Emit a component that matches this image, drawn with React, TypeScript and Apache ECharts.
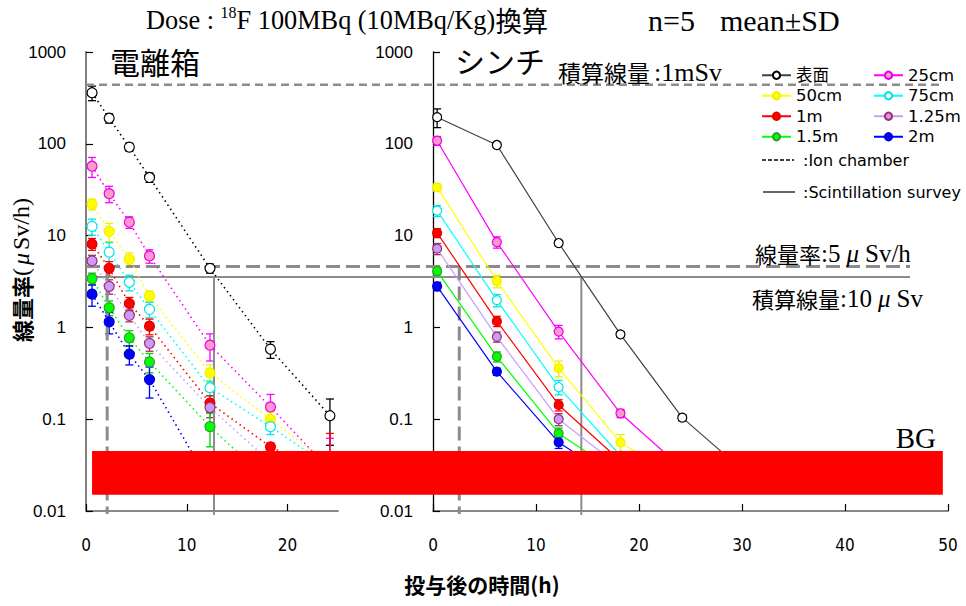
import React, { useEffect, useRef } from "react";
import * as echarts from "echarts";

// ---------- data ----------
const SERIES_NAMES = ["表面", "25cm", "50cm", "75cm", "1m", "1.25m", "1.5m", "2m"];

// Ion chamber (left panel)
const IC_TIMES = [0.6, 2.3, 4.3, 6.3, 12.3, 18.3, 24.2];
const IC_SURFACE = [360, 190, 92, 43, 4.4, 0.58, 0.109];
const IC_SURFACE_SD = [65, 22, 9, 5, 0.5, 0.12, 0.057];
const IC_25CM = [57, 28.6, 14.0, 6.0, 0.64, 0.136, 0.028];
const IC_25CM_SD = [14, 5.8, 2, 1, 0.21, 0.05, 0.034];
const IC_50CM = [22, 11.1, 5.5, 2.2, 0.32, 0.1, 0.032];
const IC_50CM_SD = [3, 2.5, 1, 0.3, 0.07, 0.02, 0];
const IC_75CM = [12.6, 6.6, 3.1, 1.57, 0.22, 0.083, 0.03];
const IC_75CM_SD = [2.5, 1.8, 0.6, 0.3, 0.04, 0.015, 0];
const IC_1M = [8.1, 4.4, 1.82, 1.03, 0.15, 0.05, 0.025];
const IC_1M_SD = [1.2, 0.8, 0.3, 0.2, 0.03, 0.005, 0.045];
const IC_125M = [5.3, 2.8, 1.35, 0.67, 0.134, 0.034, null];
const IC_125M_SD = [0.8, 0.5, 0.2, 0.12, 0.03, 0, 0];
const IC_15M = [3.4, 1.64, 0.77, 0.42, 0.083, 0.02, null];
const IC_15M_SD = [0.5, 0.3, 0.15, 0.1, 0.033, 0, 0];
const IC_2M = [2.3, 1.15, 0.51, 0.27, 0.02, null, null];
const IC_2M_SD = [0.6, 0.3, 0.12, 0.1, 0, 0, 0];

// Scintillation survey (right panel)
const SC_TIMES = [0.4, 6.2, 12.2, 18.2, 24.2, 30.2];
const SC_SURFACE = [195, 97, 8.3, 0.84, 0.104, 0.027];
const SC_SURFACE_SD = [45, 3, 0.4, 0.05, 0.008, 0];
const SC_25CM = [108, 8.5, 0.9, 0.116, 0.029, null];
const SC_25CM_SD = [12, 1.2, 0.15, 0.012, 0, 0];
const SC_50CM = [33.5, 3.2, 0.36, 0.056, 0.02, null];
const SC_50CM_SD = [3, 0.5, 0.07, 0.012, 0, 0];
const SC_75CM = [18.7, 1.98, 0.224, 0.04, null, null];
const SC_75CM_SD = [2.5, 0.3, 0.04, 0, 0, 0];
const SC_1M = [10.7, 1.17, 0.143, 0.035, null, null];
const SC_1M_SD = [1.2, 0.15, 0.02, 0, 0, 0];
const SC_125M = [7.2, 0.79, 0.1, 0.03, null, null];
const SC_125M_SD = [1.0, 0.1, 0.015, 0, 0, 0];
const SC_15M = [4.1, 0.48, 0.07, 0.025, null, null];
const SC_15M_SD = [0.4, 0.06, 0.01, 0, 0, 0];
const SC_2M = [2.8, 0.33, 0.056, 0.02, null, null];
const SC_2M_SD = [0.3, 0.03, 0.008, 0, 0, 0];

// axes ticks
const IC_X_TICKS = [0, 10, 20];
const SC_X_TICKS = [0, 10, 20, 30, 40, 50];

// reference levels
const LEVEL_1MSV = 440;
const LEVEL_RATE_5 = 4.6;
const LEVEL_10USV = 3.55;
const IC_CROSS_RATE = 2.1;
const SC_CROSS_RATE = 2.55;
const IC_CROSS_10USV = 12.7;
const SC_CROSS_10USV = 14.4;
const BG_RANGE = [0.015, 0.045];

// ---------- styles ----------
const STYLES = [
  { line: "#404040", icLine: "#000000", fill: "#ffffff", border: "#000000", err: "#000000" },
  { line: "#FF00FF", icLine: "#FF00FF", fill: "#FF99CC", border: "#E600E6", err: "#FF00FF" },
  { line: "#FFFF00", icLine: "#FFFF00", fill: "#FFFF00", border: "#F0F000", err: "#F0F000" },
  { line: "#00FFFF", icLine: "#00FFFF", fill: "#ffffff", border: "#00E5E5", err: "#00E5E5" },
  { line: "#FF0000", icLine: "#FF0000", fill: "#FF0000", border: "#E00000", err: "#FF0000" },
  { line: "#CC99FF", icLine: "#CC99FF", fill: "#CC99FF", border: "#993366", err: "#993366" },
  { line: "#00FF00", icLine: "#00FF00", fill: "#00FF00", border: "#339933", err: "#00CC00" },
  { line: "#0000FF", icLine: "#0000FF", fill: "#0000FF", border: "#0000CC", err: "#0000FF" },
];

const IC_VALUES = [IC_SURFACE, IC_25CM, IC_50CM, IC_75CM, IC_1M, IC_125M, IC_15M, IC_2M];
const IC_SDS = [IC_SURFACE_SD, IC_25CM_SD, IC_50CM_SD, IC_75CM_SD, IC_1M_SD, IC_125M_SD, IC_15M_SD, IC_2M_SD];
const SC_VALUES = [SC_SURFACE, SC_25CM, SC_50CM, SC_75CM, SC_1M, SC_125M, SC_15M, SC_2M];
const SC_SDS = [SC_SURFACE_SD, SC_25CM_SD, SC_50CM_SD, SC_75CM_SD, SC_1M_SD, SC_125M_SD, SC_15M_SD, SC_2M_SD];

const SANS = "'Liberation Sans', Arial, sans-serif";
const SERIF = "'Liberation Serif', 'Times New Roman', serif";
const CJK = "'Noto Sans CJK JP', sans-serif";
const NARROW = "'Liberation Sans Narrow', 'DejaVu Sans Condensed', 'Noto Sans CJK JP', sans-serif";
const LEG = "'DejaVu Sans', 'Noto Sans CJK JP', sans-serif";

function pairs(times: number[], vals: (number | null)[]) {
  const out: number[][] = [];
  vals.forEach((v, i) => {
    if (v != null) out.push([times[i], v]);
  });
  return out;
}
function errTriples(times: number[], vals: (number | null)[], sds: number[]) {
  const out: number[][] = [];
  vals.forEach((v, i) => {
    if (v != null && sds[i] > 0) out.push([times[i], v, sds[i]]);
  });
  return out;
}

function errorSeries(gi: number, data: number[][], color: string, name: string) {
  return {
    type: "custom",
    name,
    xAxisIndex: gi,
    yAxisIndex: gi,
    z: 1,
    data,
    encode: { x: 0, y: 1 },
    renderItem: (_p: any, api: any) => {
      const x = api.value(0);
      const y = api.value(1);
      const e = api.value(2);
      const top = api.coord([x, y + e]);
      const bot = api.coord([x, Math.max(y - e, 0.02)]);
      const w = 4;
      const style = { stroke: color, lineWidth: 1.3 };
      return {
        type: "group",
        children: [
          { type: "line", shape: { x1: top[0], y1: top[1], x2: bot[0], y2: bot[1] }, style },
          { type: "line", shape: { x1: top[0] - w, y1: top[1], x2: top[0] + w, y2: top[1] }, style },
          { type: "line", shape: { x1: bot[0] - w, y1: bot[1], x2: bot[0] + w, y2: bot[1] }, style },
        ],
      };
    },
  };
}

export default function App() {
  const ref = useRef<HTMLDivElement>(null);
  useEffect(() => {
    if (!ref.current) return;
    const chart = echarts.init(ref.current, null, { renderer: "svg" });

    const yAxisBase = (gi: number, color: string, width: number) => ({
      type: "log",
      logBase: 10,
      gridIndex: gi,
      min: 0.01,
      max: 1000,
      axisLine: { show: true, lineStyle: { color, width } },
      axisTick: { show: true, inside: true, length: 7, lineStyle: { color: "#000", width: 1.2 } },
      splitLine: { show: false },
      axisLabel: {
        margin: 20,
        fontFamily: SANS,
        fontSize: 17,
        color: "#000",
        formatter: (v: number) => String(parseFloat(Number(v).toPrecision(3))),
      },
    });
    const xAxisBase = (gi: number, max: number, ticks: number[]) => ({
      type: "value",
      gridIndex: gi,
      min: 0,
      max,
      interval: 10,
      axisLine: { show: true, onZero: false, lineStyle: { color: "#888", width: 2 } },
      axisTick: { show: true, inside: true, length: 7, customValues: ticks, lineStyle: { color: "#000", width: 1.2 } },
      splitLine: { show: false },
      axisLabel: {
        margin: 25,
        fontFamily: NARROW,
        fontSize: 17,
        color: "#000",
        customValues: ticks,
      },
    });

    const series: any[] = [];
    SERIES_NAMES.forEach((name, i) => {
      const st = STYLES[i];
      series.push({
        type: "line",
        name,
        xAxisIndex: 1,
        yAxisIndex: 1,
        z: 3,
        data: pairs(SC_TIMES, SC_VALUES[i]),
        symbol: "circle",
        symbolSize: 9,
        showAllSymbol: true,
        lineStyle: { color: st.line, width: 1.2 },
        itemStyle: { color: st.fill, borderColor: st.border, borderWidth: 1.2 },
      });
    });
    SERIES_NAMES.forEach((name, i) => {
      const st = STYLES[i];
      series.push({
        type: "line",
        name,
        xAxisIndex: 0,
        yAxisIndex: 0,
        z: 3,
        data: pairs(IC_TIMES, IC_VALUES[i]),
        symbol: "circle",
        symbolSize: 10,
        showAllSymbol: true,
        lineStyle: { color: st.icLine, width: 1.6, type: [1.5, 3.5] },
        itemStyle: { color: st.fill, borderColor: st.border, borderWidth: 1.2 },
      });
    });
    SERIES_NAMES.forEach((name, i) => {
      series.push(errorSeries(0, errTriples(IC_TIMES, IC_VALUES[i], IC_SDS[i]), STYLES[i].err, name + " SD(IC)"));
      series.push(errorSeries(1, errTriples(SC_TIMES, SC_VALUES[i], SC_SDS[i]), STYLES[i].err, name + " SD(SC)"));
    });

    const option: any = {
      animation: false,
      backgroundColor: "#ffffff",
      grid: [
        { left: 86, top: 52, width: 252, height: 459 },
        { left: 433, top: 52, width: 515, height: 459 },
      ],
      xAxis: [xAxisBase(0, 25, IC_X_TICKS), xAxisBase(1, 50, SC_X_TICKS)],
      yAxis: [yAxisBase(0, "#808080", 2), yAxisBase(1, "#000000", 1.3)],
      legend: {
        data: SERIES_NAMES,
        left: 756,
        top: 62,
        width: 230,
        orient: "horizontal",
        itemWidth: 29,
        itemHeight: 9,
        itemGap: 4,
        selectedMode: false,
        textStyle: { fontFamily: LEG, fontSize: 16.5, color: "#000", width: 73, lineHeight: 14 },
      },
      series,
    };
    chart.setOption(option);

    const px = (g: number, x: number, y: number) =>
      chart.convertToPixel({ gridIndex: g } as any, [x, y]) as number[];

    const yTop = px(0, 0, LEVEL_1MSV)[1];
    const yRate = px(0, 0, LEVEL_RATE_5)[1];
    const y10 = px(0, 0, LEVEL_10USV)[1];
    const x0 = px(0, 0, 1)[0];
    const yBottom = px(0, 0, 0.01)[1];
    const icRateX = px(0, IC_CROSS_RATE, 1)[0];
    const scRateX = px(1, SC_CROSS_RATE, 1)[0];
    const ic10X = px(0, IC_CROSS_10USV, 1)[0];
    const sc10X = px(1, SC_CROSS_10USV, 1)[0];
    const bgTL = px(0, 0.6, BG_RANGE[1]);
    const bgBR = px(1, 49.5, BG_RANGE[0]);

    const gray = "#8c8c8c";
    const serifRich = (size: number) => ({
      k: { fontFamily: CJK, fontSize: size - 1, fill: "#000" },
      s: { fontFamily: SERIF, fontSize: size + 2, fill: "#000" },
      m: { fontFamily: SERIF, fontSize: size + 2, fontStyle: "italic", fill: "#000", padding: [0, 6, 0, 6] },
    });
    const graphic: any[] = [
      { type: "line", z: 1, shape: { x1: x0, y1: yTop, x2: 940, y2: yTop }, style: { stroke: gray, lineWidth: 2.5, lineDash: [8, 5] } },
      { type: "line", z: 1, shape: { x1: x0, y1: yRate, x2: 910, y2: yRate }, style: { stroke: gray, lineWidth: 3, lineDash: [14, 6] } },
      { type: "line", z: 1, shape: { x1: x0, y1: y10, x2: 910, y2: y10 }, style: { stroke: gray, lineWidth: 2 } },
      { type: "line", z: 1, shape: { x1: icRateX, y1: yRate, x2: icRateX, y2: yBottom + 3 }, style: { stroke: gray, lineWidth: 3, lineDash: [14, 6] } },
      { type: "line", z: 1, shape: { x1: scRateX, y1: yRate, x2: scRateX, y2: yBottom + 3 }, style: { stroke: gray, lineWidth: 3, lineDash: [14, 6] } },
      { type: "line", z: 1, shape: { x1: ic10X, y1: y10, x2: ic10X, y2: yBottom + 4 }, style: { stroke: gray, lineWidth: 2 } },
      { type: "line", z: 1, shape: { x1: sc10X, y1: y10, x2: sc10X, y2: yBottom + 4 }, style: { stroke: gray, lineWidth: 2 } },
      {
        type: "rect",
        z: 50,
        shape: { x: bgTL[0], y: bgTL[1], width: bgBR[0] - bgTL[0], height: bgBR[1] - bgTL[1] },
        style: { fill: "#FF0000" },
      },
      {
        type: "text",
        z: 51,
        x: 936,
        y: 438,
        style: { text: "BG", font: `29px ${SERIF}`, fill: "#000", align: "right", verticalAlign: "middle" },
      },
      // title
      {
        type: "text",
        z: 60,
        x: 146,
        y: 20,
        scaleX: 0.94,
        style: {
          text: "{a|Dose : }{s|18}{a|F 100MBq (10MBq/Kg)}{k|換算}",
          align: "left",
          verticalAlign: "middle",
          rich: {
            a: { fontFamily: SERIF, fontSize: 28, fill: "#000", lineHeight: 32 },
            s: { fontFamily: SERIF, fontSize: 17, fill: "#000", lineHeight: 32, verticalAlign: "top", padding: [0, 0, 12, 0] },
            k: { fontFamily: CJK, fontSize: 28, fill: "#000", lineHeight: 32 },
          },
        },
      },
      {
        type: "text",
        z: 60,
        x: 648,
        y: 20,
        style: {
          text: "{a|n=5  }{b|mean±SD}",
          align: "left",
          verticalAlign: "middle",
          rich: {
            a: { fontFamily: SERIF, fontSize: 30, fill: "#000", lineHeight: 32 },
            b: { fontFamily: SERIF, fontSize: 30, fill: "#000", lineHeight: 32, padding: [0, 0, 0, 10] },
          },
        },
      },
      { type: "text", z: 60, x: 110, y: 61, style: { text: "電離箱", font: `30px ${CJK}`, fill: "#000", verticalAlign: "middle" } },
      { type: "text", z: 60, x: 455, y: 60, style: { text: "シンチ", font: `30px ${CJK}`, fill: "#000", verticalAlign: "middle" } },
      {
        type: "text",
        z: 60,
        x: 558,
        y: 72,
        style: {
          text: "{k|積算線量}{s|:1mSv}",
          verticalAlign: "middle",
          rich: {
            k: { fontFamily: CJK, fontSize: 23, fill: "#000" },
            s: { fontFamily: SERIF, fontSize: 26, fill: "#000", padding: [0, 0, 0, 4] },
          },
        },
      },
      {
        type: "text",
        z: 60,
        x: 755,
        y: 253,
        style: { text: "{k|線量率}{s|:5}{m|μ}{s|Sv/h}", verticalAlign: "middle", rich: serifRich(23) },
      },
      {
        type: "text",
        z: 60,
        x: 752,
        y: 298,
        style: { text: "{k|積算線量}{s|:10}{m|μ}{s|Sv}", verticalAlign: "middle", rich: serifRich(23) },
      },
      {
        type: "text",
        z: 60,
        x: 21,
        y: 270,
        rotation: Math.PI / 2,
        style: {
          text: "{k|線量率}{s|(}{m|μ}{s|Sv/h)}",
          align: "center",
          verticalAlign: "middle",
          rich: {
            k: { fontFamily: CJK, fontSize: 22, fill: "#000", fontWeight: "bold" },
            s: { fontFamily: SERIF, fontSize: 24, fill: "#000" },
            m: { fontFamily: SERIF, fontSize: 24, fontStyle: "italic", fill: "#000", padding: [0, 3, 0, 3] },
          },
        },
      },
      {
        type: "text",
        z: 60,
        x: 482,
        y: 584,
        style: { text: "投与後の時間(h)", font: `bold 21px ${CJK}`, fill: "#000", align: "center", verticalAlign: "middle" },
      },
      { type: "line", z: 60, shape: { x1: 762, y1: 160, x2: 794, y2: 160 }, style: { stroke: "#000", lineWidth: 1.5, lineDash: [4, 2] } },
      { type: "text", z: 60, x: 803, y: 160, style: { text: ":Ion chamber", font: `16px ${LEG}`, fill: "#000", verticalAlign: "middle" } },
      { type: "line", z: 60, shape: { x1: 763, y1: 192, x2: 795, y2: 192 }, style: { stroke: "#000", lineWidth: 1.2 } },
      { type: "text", z: 60, x: 803, y: 192, style: { text: ":Scintillation survey", font: `16px ${LEG}`, fill: "#000", verticalAlign: "middle" } },
    ];
    chart.setOption({ graphic });

    return () => chart.dispose();
  }, []);

  return <div ref={ref} style={{ width: 966, height: 606, position: "absolute", left: 0, top: 0 }} />;
}
